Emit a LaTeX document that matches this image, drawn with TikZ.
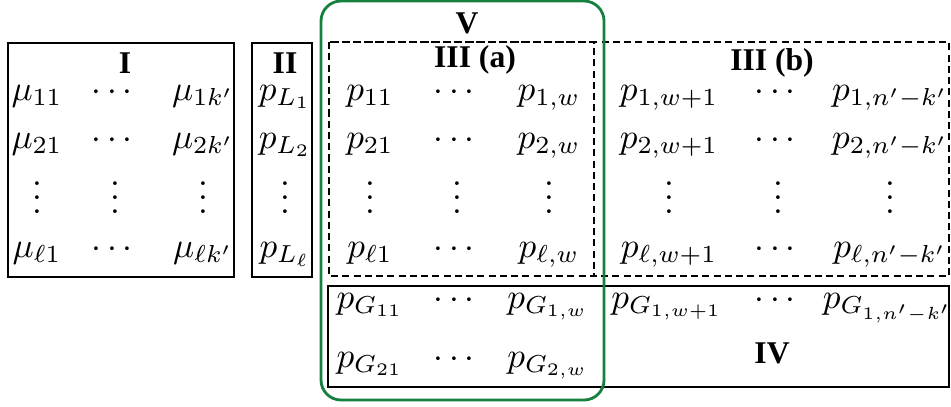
\documentclass[tikz,border=0pt]{standalone}
\usepackage{amsmath, amssymb}
\usepackage[no-math]{fontspec}
\setmainfont{Liberation Serif}
\usepackage{xcolor}
\usetikzlibrary{positioning,fit,calc}

\definecolor{vgreen}{RGB}{22,128,62}
% vertical dots without the top kern of \vdots
\newcommand{\vdotz}{\vbox{\baselineskip4pt\lineskiplimit0pt\hbox{$.$}\hbox{$.$}\hbox{$.$}}}

\begin{document}
\begin{tikzpicture}[
        entry/.style={anchor=base, inner sep=0pt},
        dotsv/.style={inner sep=0pt},
        head/.style={font=\small\bfseries, inner sep=0pt},
        blockbox/.style={draw, line width=0.8pt},
        dashbox/.style={draw, line width=0.6pt, dash pattern=on 2pt off 1.2pt},
        greenbox/.style={draw=vgreen, line width=0.8pt, rounded corners=0.2cm}
    ]
        \useasboundingbox (0,0) rectangle (9.51,4.06);

        % Boxes
        \draw[blockbox] (0.08,3.63) rectangle (2.34,1.29);
        \draw[blockbox] (2.52,3.63) rectangle (3.12,1.29);
        \draw[dashbox] (3.29,3.64) rectangle (9.49,1.30);
        \draw[dashbox] (3.29,3.64) rectangle (5.94,1.30);
        \draw[blockbox] (3.28,1.20) rectangle (9.49,0.19);
        \draw[greenbox] (3.21,4.05) rectangle (6.04,0.06);

        % Headers
        \node[head] (hI) at (1.25,3.43) {I};
        \node[head] (hII) at (2.85,3.43) {II};
        \node[head] (hIIIa) at (4.75,3.46) {III (a)};
        \node[head] (hIIIb) at (7.72,3.43) {III (b)};
        \node[head] (hIV) at (7.72,0.53) {IV};
        \node[head] (hV) at (4.67,3.83) {V};

        % Block I
        \node[entry] (m11) at (0.37,3.06) {$\mu_{11}$};
        \node[entry] (m1c) at (1.15,3.06) {$\cdots$};
        \node[entry] (m1k) at (2.03,3.06) {$\mu_{1k'}$};
        \node[entry] (m21) at (0.37,2.58) {$\mu_{21}$};
        \node[entry] (m2c) at (1.15,2.58) {$\cdots$};
        \node[entry] (m2k) at (2.03,2.58) {$\mu_{2k'}$};
        \node[dotsv] (mv1) at (0.37,2.08) {\vdotz};
        \node[dotsv] (mv2) at (1.15,2.08) {\vdotz};
        \node[dotsv] (mv3) at (2.03,2.08) {\vdotz};
        \node[entry] (ml1) at (0.37,1.49) {$\mu_{\ell 1}$};
        \node[entry] (mlc) at (1.15,1.49) {$\cdots$};
        \node[entry] (mlk) at (2.03,1.49) {$\mu_{\ell k'}$};

        % Block II
        \node[entry] (pL1) at (2.85,3.06) {$p_{L_1}$};
        \node[entry] (pL2) at (2.85,2.58) {$p_{L_2}$};
        \node[dotsv] (pLv) at (2.85,2.08) {\vdotz};
        \node[entry] (pLl) at (2.85,1.49) {$p_{L_\ell}$};

        % Block III (a)
        \node[entry] (a11) at (3.70,3.06) {$p_{11}$};
        \node[entry] (a1c) at (4.57,3.06) {$\cdots$};
        \node[entry] (a1w) at (5.49,3.06) {$p_{1,w}$};
        \node[entry] (a21) at (3.70,2.58) {$p_{21}$};
        \node[entry] (a2c) at (4.57,2.58) {$\cdots$};
        \node[entry] (a2w) at (5.49,2.58) {$p_{2,w}$};
        \node[dotsv] (av1) at (3.70,2.08) {\vdotz};
        \node[dotsv] (av2) at (4.57,2.08) {\vdotz};
        \node[dotsv] (av3) at (5.49,2.08) {\vdotz};
        \node[entry] (al1) at (3.70,1.49) {$p_{\ell 1}$};
        \node[entry] (alc) at (4.57,1.49) {$\cdots$};
        \node[entry] (alw) at (5.49,1.49) {$p_{\ell,w}$};

        % Block III (b)
        \node[entry] (b1w) at (6.69,3.06) {$p_{1,w+1}$};
        \node[entry] (b1c) at (7.78,3.06) {$\cdots$};
        \node[entry] (b1n) at (8.90,3.06) {$p_{1,n'-k'}$};
        \node[entry] (b2w) at (6.69,2.58) {$p_{2,w+1}$};
        \node[entry] (b2c) at (7.78,2.58) {$\cdots$};
        \node[entry] (b2n) at (8.90,2.58) {$p_{2,n'-k'}$};
        \node[dotsv] (bv1) at (6.69,2.08) {\vdotz};
        \node[dotsv] (bv2) at (7.78,2.08) {\vdotz};
        \node[dotsv] (bv3) at (8.90,2.08) {\vdotz};
        \node[entry] (blw) at (6.69,1.49) {$p_{\ell,w+1}$};
        \node[entry] (blc) at (7.78,1.49) {$\cdots$};
        \node[entry] (bln) at (8.90,1.49) {$p_{\ell,n'-k'}$};

        % Block IV
        \node[entry] (g11) at (3.70,0.98) {$p_{G_{11}}$};
        \node[entry] (g1c) at (4.57,0.98) {$\cdots$};
        \node[entry] (g1w) at (5.48,0.98) {$p_{G_{1,w}}$};
        \node[entry] (g1x) at (6.67,0.98) {$p_{G_{1,w+1}}$};
        \node[entry] (g1d) at (7.78,0.98) {$\cdots$};
        \node[entry] (g1n) at (8.88,0.98) {$p_{G_{1,n'-k'}}$};
        \node[entry] (g21) at (3.70,0.39) {$p_{G_{21}}$};
        \node[entry] (g2c) at (4.57,0.39) {$\cdots$};
        \node[entry] (g2w) at (5.48,0.39) {$p_{G_{2,w}}$};
    \end{tikzpicture}
\end{document}
